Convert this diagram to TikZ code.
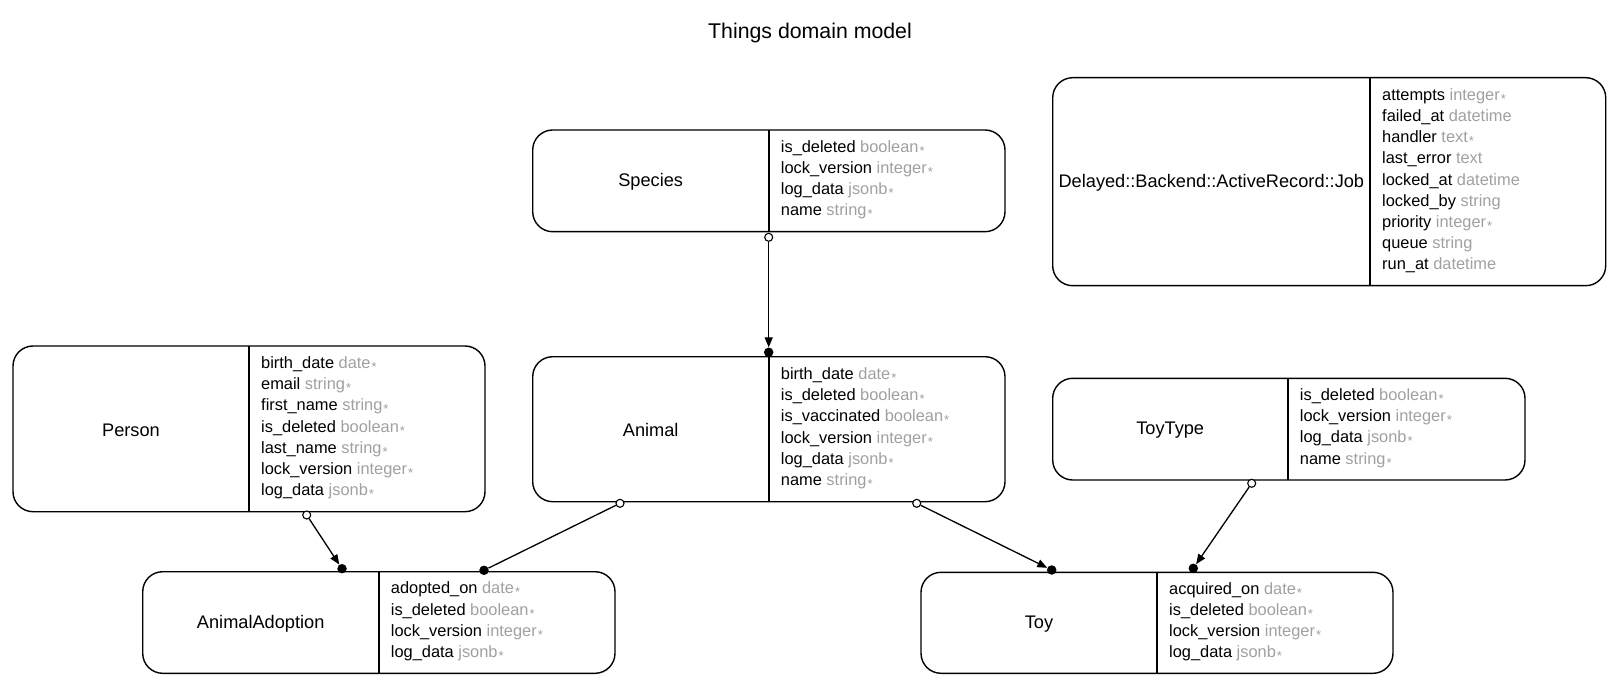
\documentclass[tikz,border=0pt]{standalone}
\usepackage{fontspec}
\setmainfont{Liberation Sans}
\usetikzlibrary{arrows.meta,calc}
\definecolor{attrgray}{HTML}{A0A0A0}
\newcommand\reqast{\kern1pt\raisebox{-3pt}{\fontsize{13}{13}\selectfont *}}
\newcommand\atr[2]{#1 {\color{attrgray}#2\reqast}}
\newcommand\atrn[2]{#1 {\color{attrgray}#2}}
\newcommand\erentity[8]{%
  % #1 name, #2 x1, #3 y1, #4 x2, #5 y2, #6 divider x, #7 title, #8 attributes
  \node[entbox, minimum width={(#4)-(#2)}, minimum height={(#5)-(#3)}] (#1) at ({((#2)+(#4))/2},{((#3)+(#5))/2}) {};
  \draw[divline] (#6,#3) -- (#6,#5);
  \node[enttitle] (#1-title) at ({((#2)+(#6))/2},{((#3)+(#5))/2+1}) {#7};
  \node[entattrs] (#1-attrs) at ({(#6)+12},{((#3)+(#5))/2-1}) {#8};
}
\begin{document}
\begin{tikzpicture}[x=1pt,y=-1pt,
  entbox/.style={draw, line width=1.4pt, rounded corners=20pt, inner sep=0pt, outer sep=0pt},
  divline/.style={line width=1.7pt},
  enttitle/.style={inner sep=0pt, font=\fontsize{18.2}{22}\selectfont},
  entattrs/.style={anchor=west, inner sep=0pt, align=left, font=\fontsize{16.4}{21.2}\selectfont},
  opendot/.style={circle, draw, line width=1.1pt, fill=white, inner sep=0pt, minimum size=8pt},
  filldot/.style={circle, fill=black, inner sep=0pt, minimum size=9.5pt},
  rel/.style={line width=1.3pt},
  relarrow/.style={rel, -{Triangle[length=10pt,width=8pt]}}
]
\useasboundingbox (0,0) rectangle (1624,700);

\node[font=\fontsize{21.3}{25}\selectfont] (title) at (810,33) {Things domain model};

\erentity{species}{532.7}{130}{1005}{231.7}{768.7}{Species}{%
  \atr{is\_deleted}{boolean}\\
  \atr{lock\_version}{integer}\\
  \atr{log\_data}{jsonb}\\
  \atr{name}{string}}

\erentity{job}{1052.7}{77.7}{1605.7}{285.7}{1370}{Delayed::Backend::ActiveRecord::Job}{%
  \atr{attempts}{integer}\\
  \atrn{failed\_at}{datetime}\\
  \atr{handler}{text}\\
  \atrn{last\_error}{text}\\
  \atrn{locked\_at}{datetime}\\
  \atrn{locked\_by}{string}\\
  \atr{priority}{integer}\\
  \atrn{queue}{string}\\
  \atrn{run\_at}{datetime}}

\erentity{person}{13}{346}{485}{511.7}{249}{Person}{%
  \atr{birth\_date}{date}\\
  \atr{email}{string}\\
  \atr{first\_name}{string}\\
  \atr{is\_deleted}{boolean}\\
  \atr{last\_name}{string}\\
  \atr{lock\_version}{integer}\\
  \atr{log\_data}{jsonb}}

\erentity{animal}{532.7}{356.7}{1005}{501.7}{768.7}{Animal}{%
  \atr{birth\_date}{date}\\
  \atr{is\_deleted}{boolean}\\
  \atr{is\_vaccinated}{boolean}\\
  \atr{lock\_version}{integer}\\
  \atr{log\_data}{jsonb}\\
  \atr{name}{string}}

\erentity{toytype}{1052.7}{378.3}{1525}{480}{1287.7}{ToyType}{%
  \atr{is\_deleted}{boolean}\\
  \atr{lock\_version}{integer}\\
  \atr{log\_data}{jsonb}\\
  \atr{name}{string}}

\erentity{adoption}{142.7}{571.7}{615}{673.3}{378.7}{AnimalAdoption}{%
  \atr{adopted\_on}{date}\\
  \atr{is\_deleted}{boolean}\\
  \atr{lock\_version}{integer}\\
  \atr{log\_data}{jsonb}}

\erentity{toy}{921}{572.3}{1393}{673.3}{1157}{Toy}{%
  \atr{acquired\_on}{date}\\
  \atr{is\_deleted}{boolean}\\
  \atr{lock\_version}{integer}\\
  \atr{log\_data}{jsonb}}

% relationship end points
\node[opendot] (o1) at (768.7,237.3) {};
\node[filldot] (f1) at (768.7,352.3) {};
\node[opendot] (o2) at (306.7,515) {};
\node[filldot] (f2) at (342,568.7) {};
\node[opendot] (o3) at (620,503.3) {};
\node[filldot] (f3) at (484,570.3) {};
\node[opendot] (o4) at (916.7,503.3) {};
\node[filldot] (f4) at (1051.7,570) {};
\node[opendot] (o5) at (1251.7,483.3) {};
\node[filldot] (f5) at (1193.3,568.3) {};

\draw[relarrow] (o1) -- (f1);
\draw[relarrow] (o2) -- (f2);
\draw[rel] (o3) -- (f3);
\draw[relarrow] (o4) -- (f4);
\draw[relarrow] (o5) -- (f5);
\end{tikzpicture}
\end{document}
